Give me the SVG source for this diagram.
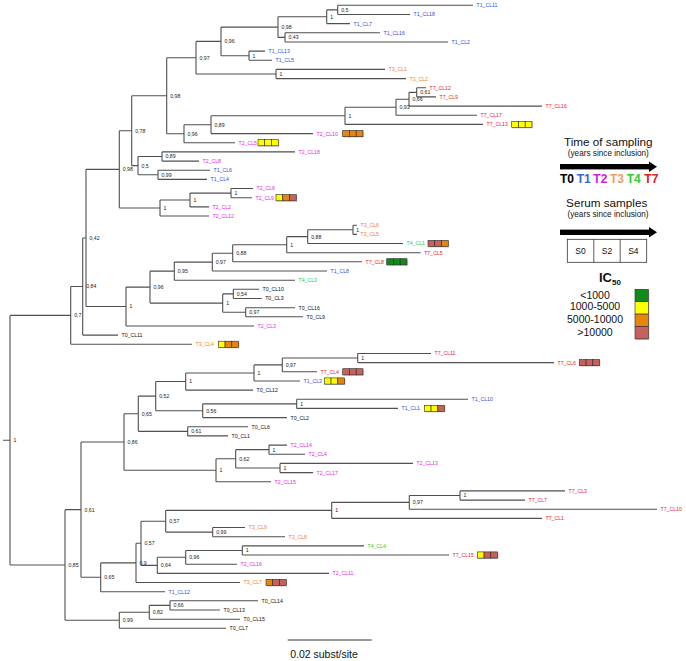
<svg xmlns="http://www.w3.org/2000/svg" width="686" height="661" viewBox="0 0 686 661">
<style>
.br{fill:none;stroke:#505050;stroke-width:1.1}
.lf{font-family:"Liberation Sans",Arial,sans-serif;font-size:5.2px}
.nl{font-family:"Liberation Sans",Arial,sans-serif;font-size:5.2px;fill:#1a1a1a}
.t0{fill:#111}.t1{fill:#2b50e0}.t2{fill:#e61ee0}.t3{fill:#f08030}.t4{fill:#2ecc2e}.t7{fill:#e8202c}
.bx{stroke:#2a2a2a;stroke-width:0.6}
.sh{fill:#000;opacity:0.25}
.Y{fill:#ffff00}.O{fill:#e8840a}.B{fill:#c8605c}.G{fill:#118a1a}
.lg{font-family:"Liberation Sans",Arial,sans-serif;fill:#111;text-anchor:middle}
</style>
<rect width="686" height="661" fill="#fff"/>
<g id="connectors">
<path class="br" d="M3 440.2H10M10 315.4V565M10 315.4H70.7M10 565H65
M70.7 286.5V344.3M70.7 286.5H82.7M70.7 344.3H192
M82.7 237.95V335.1M82.7 237.95H86M82.7 335.1H118
M86 169.35V306.55M86 169.35H119.3M86 306.55H126
M119.3 130.7V208M119.3 130.7H131.7M119.3 208H160
M131.7 95.7V165.65M131.7 95.7H166.7M131.7 165.65H138
M166.7 57.7V133.7M166.7 57.7H196M166.7 133.7H184
M196 41.4V74M196 41.4H221M196 74H276
M221 27.1V55.7M221 27.1H278M221 55.7H249
M278 16.8V37.4M278 16.8H326.7M278 37.4H285
M326.7 9.9V23.6M326.7 9.9H337.7M326.7 23.6H350
M337.7 5.3V14.5M337.7 5.3H473M337.7 14.5H410
M285 32.8V42M285 32.8H380M285 42H448
M249 51.1V60.3M249 51.1H265M249 60.3H272
M276 69.4V78.6M276 69.4H385M276 78.6H406
M184 124.7V142.7M184 124.7H211M184 142.7H235
M211 115.8V133.6M211 115.8H345M211 133.6H313
M345 107.2V124.4M345 107.2H396M345 124.4H483
M396 99.2V115.2M396 99.2H409M396 115.2H477
M409 92.35V106.1M409 92.35H416.7M409 106.1H542
M416.7 87.8V96.9M416.7 87.8H426M416.7 96.9H436
M138 156.5V174.8M138 156.5H162M138 174.8H158
M162 151.9V161.1M162 151.9H295M162 161.1H199
M158 170.2V179.4M158 170.2H210M158 179.4H207
M160 200V216M160 200H190M160 216H209
M190 193.1V206.9M190 193.1H231M190 206.9H209
M231 188.5V197.7M231 188.5H253M231 197.7H252
M126 287.1V326M126 287.1H150M126 326H254
M150 271.15V303.1M150 271.15H174.3M150 303.1H222.7
M174.3 262.1V280.2M174.3 262.1H212.3M174.3 280.2H295
M212.3 253.25V271M212.3 253.25H232.7M212.3 271H327
M232.7 244.7V261.8M232.7 244.7H286.7M232.7 261.8H362
M286.7 236.65V252.7M286.7 236.65H307.7M286.7 252.7H420.7
M307.7 229.8V243.5M307.7 229.8H353M307.7 243.5H403
M353 225.2V234.4M353 225.2H357M353 234.4H357
M222.7 293.9V312.25M222.7 293.9H233.3M222.7 312.25H245.7
M233.3 289.3V298.5M233.3 289.3H259M233.3 298.5H261.7
M245.7 307.7V316.8M245.7 307.7H295M245.7 316.8H303
M65 509.65V620.3M65 509.65H81M65 620.3H119.3
M81 442V577.3M81 442H124M81 577.3H100.7
M124 413.7V470.25M124 413.7H138.3M124 470.25H216
M138.3 396.1V431.35M138.3 396.1H155.7M138.3 431.35H187.7
M155.7 381.5V410.7M155.7 381.5H185.7M155.7 410.7H202.7
M185.7 372.95V390.1M185.7 372.95H254M185.7 390.1H253
M254 364.9V381M254 364.9H282.3M254 381H300
M282.3 358.05V371.8M282.3 358.05H357.7M282.3 371.8H317
M357.7 353.5V362.6M357.7 353.5H431M357.7 362.6H554
M202.7 403.85V417.6M202.7 403.85H296.7M202.7 417.6H287
M296.7 399.3V408.4M296.7 399.3H468M296.7 408.4H398
M187.7 426.8V435.9M187.7 426.8H248M187.7 435.9H228
M216 458.8V481.7M216 458.8H235.7M216 481.7H271
M235.7 449.65V468M235.7 449.65H269M235.7 468H280
M269 445.1V454.2M269 445.1H287M269 454.2H305
M280 463.4V472.6M280 463.4H413M280 472.6H313
M100.7 562.9V591.7M100.7 562.9H136M100.7 591.7H165
M136 543.3V582.5M136 543.3H141M136 582.5H240
M141 521.25V565.35M141 521.25H165.7M141 565.35H157.3
M165.7 510.4V532.1M165.7 510.4H331.7M165.7 532.1H212.7
M331.7 502.35V518.4M331.7 502.35H409.3M331.7 518.4H542
M409.3 495.5V509.2M409.3 495.5H460M409.3 509.2H657
M460 490.9V500.1M460 490.9H565M460 500.1H525
M212.7 527.5V536.7M212.7 527.5H245M212.7 536.7H285
M157.3 557.3V573.4M157.3 557.3H185.7M157.3 573.4H329
M185.7 550.45V564.2M185.7 550.45H242.3M185.7 564.2H237
M242.3 545.9V555M242.3 545.9H364M242.3 555H449
M119.3 612.3V628.3M119.3 612.3H149.3M119.3 628.3H226
M149.3 605.4V619.2M149.3 605.4H170M149.3 619.2H240
M170 600.8V610M170 600.8H258M170 610H220"/>
<path d="M287.7 640H371.7" stroke="#333" stroke-width="1" fill="none"/>
</g>
<g id="internal-nodes">
<g id="n-root"><text class="nl" x="13.5" y="442.1">1</text></g>
<g id="n-07"><text class="nl" x="74.2" y="317.3">0,7</text></g>
<g id="n-084"><text class="nl" x="86.2" y="288.4">0,84</text></g>
<g id="n-042"><text class="nl" x="89.5" y="239.9">0,42</text></g>
<g id="n-098b"><text class="nl" x="122.8" y="171.3">0,98</text></g>
<g id="n-078"><text class="nl" x="135.2" y="132.6">0,78</text></g>
<g id="n-098"><text class="nl" x="170.2" y="97.6">0,98</text></g>
<g id="n-097"><text class="nl" x="199.5" y="59.6">0,97</text></g>
<g id="n-096"><text class="nl" x="224.5" y="43.3">0,96</text></g>
<g id="n-098t"><text class="nl" x="281.5" y="29">0,98</text></g>
<g id="n-1a"><text class="nl" x="330.2" y="18.7">1</text></g>
<g id="n-05a"><text class="nl" x="341.2" y="11.8">0,5</text></g>
<g id="n-043"><text class="nl" x="288.5" y="39.3">0,43</text></g>
<g id="n-1b"><text class="nl" x="252.5" y="57.6">1</text></g>
<g id="n-1c"><text class="nl" x="279.5" y="75.9">1</text></g>
<g id="n-096b"><text class="nl" x="187.5" y="135.6">0,96</text></g>
<g id="n-089a"><text class="nl" x="214.5" y="126.6">0,89</text></g>
<g id="n-1t7"><text class="nl" x="348.5" y="117.7">1</text></g>
<g id="n-093"><text class="nl" x="399.5" y="109.1">0,93</text></g>
<g id="n-066"><text class="nl" x="412.5" y="101.1">0,66</text></g>
<g id="n-061t"><text class="nl" x="420.2" y="94.2">0,61</text></g>
<g id="n-05b"><text class="nl" x="141.5" y="167.5">0,5</text></g>
<g id="n-089b"><text class="nl" x="165.5" y="158.4">0,89</text></g>
<g id="n-099"><text class="nl" x="161.5" y="176.7">0,99</text></g>
<g id="n-1A"><text class="nl" x="163.5" y="209.9">1</text></g>
<g id="n-1B"><text class="nl" x="193.5" y="201.9">1</text></g>
<g id="n-1C"><text class="nl" x="234.5" y="195">1</text></g>
<g id="n-1g"><text class="nl" x="129.5" y="308.4">1</text></g>
<g id="n-096c"><text class="nl" x="153.5" y="289">0,96</text></g>
<g id="n-095"><text class="nl" x="177.8" y="273">0,95</text></g>
<g id="n-097d"><text class="nl" x="215.8" y="264">0,97</text></g>
<g id="n-088"><text class="nl" x="236.2" y="255.1">0,88</text></g>
<g id="n-1f"><text class="nl" x="290.2" y="246.6">1</text></g>
<g id="n-088b"><text class="nl" x="311.2" y="238.5">0,88</text></g>
<g id="n-1e"><text class="nl" x="356.2" y="231.7">1</text></g>
<g id="n-1d"><text class="nl" x="226.2" y="305">1</text></g>
<g id="n-054"><text class="nl" x="236.8" y="295.8">0,54</text></g>
<g id="n-097c"><text class="nl" x="249.2" y="314.1">0,97</text></g>
<g id="n-085"><text class="nl" x="68.5" y="566.9">0,85</text></g>
<g id="n-061"><text class="nl" x="84.5" y="511.5">0,61</text></g>
<g id="n-086"><text class="nl" x="127.5" y="443.9">0,86</text></g>
<g id="n-065"><text class="nl" x="141.8" y="415.6">0,65</text></g>
<g id="n-052"><text class="nl" x="159.2" y="398">0,52</text></g>
<g id="n-1k"><text class="nl" x="189.2" y="383.4">1</text></g>
<g id="n-1l"><text class="nl" x="257.5" y="374.8">1</text></g>
<g id="n-097e"><text class="nl" x="285.8" y="366.8">0,97</text></g>
<g id="n-1m"><text class="nl" x="361.2" y="359.9">1</text></g>
<g id="n-056"><text class="nl" x="206.2" y="412.6">0,56</text></g>
<g id="n-1n"><text class="nl" x="300.2" y="405.7">1</text></g>
<g id="n-061b"><text class="nl" x="191.2" y="433.2">0,61</text></g>
<g id="n-1h"><text class="nl" x="219.5" y="472.1">1</text></g>
<g id="n-062"><text class="nl" x="239.2" y="460.7">0,62</text></g>
<g id="n-1i"><text class="nl" x="272.5" y="451.5">1</text></g>
<g id="n-1j"><text class="nl" x="283.5" y="469.9">1</text></g>
<g id="n-065b"><text class="nl" x="104.2" y="579.2">0,65</text></g>
<g id="n-09"><text class="nl" x="139.5" y="564.8">0,9</text></g>
<g id="n-057b"><text class="nl" x="144.5" y="545.2">0,57</text></g>
<g id="n-057a"><text class="nl" x="169.2" y="523.1">0,57</text></g>
<g id="n-1o"><text class="nl" x="335.2" y="512.3">1</text></g>
<g id="n-097f"><text class="nl" x="412.8" y="504.2">0,97</text></g>
<g id="n-1q"><text class="nl" x="463.5" y="497.4">1</text></g>
<g id="n-099c"><text class="nl" x="216.2" y="534">0,99</text></g>
<g id="n-064"><text class="nl" x="160.8" y="567.2">0,64</text></g>
<g id="n-096d"><text class="nl" x="189.2" y="559.2">0,96</text></g>
<g id="n-1p"><text class="nl" x="245.8" y="552.3">1</text></g>
<g id="n-099b"><text class="nl" x="122.8" y="622.2">0,99</text></g>
<g id="n-082"><text class="nl" x="152.8" y="614.2">0,82</text></g>
<g id="n-066c"><text class="nl" x="173.5" y="607.3">0,66</text></g>
</g>
<g id="leaves">
<g id="T1_CL11"><text class="lf t1" x="476.5" y="7.2">T1_CL11</text></g>
<g id="T1_CL18"><text class="lf t1" x="413.5" y="16.4">T1_CL18</text></g>
<g id="T1_CL7"><text class="lf t1" x="353.5" y="25.5">T1_CL7</text></g>
<g id="T1_CL16"><text class="lf t1" x="383.5" y="34.7">T1_CL16</text></g>
<g id="T1_CL2"><text class="lf t1" x="451.5" y="43.9">T1_CL2</text></g>
<g id="T1_CL13"><text class="lf t1" x="268.5" y="53">T1_CL13</text></g>
<g id="T1_CL5"><text class="lf t1" x="275.5" y="62.2">T1_CL5</text></g>
<g id="T3_CL1"><text class="lf t3" x="388.5" y="71.3">T3_CL1</text></g>
<g id="T3_CL2"><text class="lf t3" x="409.5" y="80.5">T3_CL2</text></g>
<g id="T7_CL12"><text class="lf t7" x="429.5" y="89.7">T7_CL12</text></g>
<g id="T7_CL9"><text class="lf t7" x="439.5" y="98.8">T7_CL9</text></g>
<g id="T7_CL16"><text class="lf t7" x="545.5" y="108">T7_CL16</text></g>
<g id="T7_CL17"><text class="lf t7" x="480.5" y="117.1">T7_CL17</text></g>
<g id="T7_CL13"><text class="lf t7" x="486.5" y="126.3">T7_CL13</text>
<rect class="sh" x="512.5" y="122.1" width="20.25" height="6.2"/><rect class="bx Y" x="511.7" y="121.3" width="6.75" height="6.2"/><rect class="bx Y" x="518.45" y="121.3" width="6.75" height="6.2"/><rect class="bx Y" x="525.2" y="121.3" width="6.75" height="6.2"/></g>
<g id="T2_CL10"><text class="lf t2" x="316.5" y="135.5">T2_CL10</text>
<rect class="sh" x="343.5" y="131.3" width="20.25" height="6.2"/><rect class="bx O" x="342.7" y="130.5" width="6.75" height="6.2"/><rect class="bx O" x="349.45" y="130.5" width="6.75" height="6.2"/><rect class="bx O" x="356.2" y="130.5" width="6.75" height="6.2"/></g>
<g id="T2_CL5"><text class="lf t2" x="238.5" y="144.6">T2_CL5</text>
<rect class="sh" x="258.8" y="140.4" width="20.25" height="6.2"/><rect class="bx Y" x="258" y="139.6" width="6.75" height="6.2"/><rect class="bx Y" x="264.75" y="139.6" width="6.75" height="6.2"/><rect class="bx Y" x="271.5" y="139.6" width="6.75" height="6.2"/></g>
<g id="T2_CL18"><text class="lf t2" x="298.5" y="153.8">T2_CL18</text></g>
<g id="T2_CL8"><text class="lf t2" x="202.5" y="163">T2_CL8</text></g>
<g id="T1_CL6"><text class="lf t1" x="213.5" y="172.1">T1_CL6</text></g>
<g id="T1_CL4"><text class="lf t1" x="210.5" y="181.3">T1_CL4</text></g>
<g id="T2_CL6"><text class="lf t2" x="256.5" y="190.4">T2_CL6</text></g>
<g id="T2_CL9"><text class="lf t2" x="255.5" y="199.6">T2_CL9</text>
<rect class="sh" x="276.8" y="195.4" width="20.25" height="6.2"/><rect class="bx Y" x="276" y="194.6" width="6.75" height="6.2"/><rect class="bx O" x="282.75" y="194.6" width="6.75" height="6.2"/><rect class="bx B" x="289.5" y="194.6" width="6.75" height="6.2"/></g>
<g id="T2_CL2"><text class="lf t2" x="212.5" y="208.8">T2_CL2</text></g>
<g id="T2_CL12"><text class="lf t2" x="212.5" y="217.9">T2_CL12</text></g>
<g id="T3_CL6"><text class="lf t3" x="360.5" y="227.1">T3_CL6</text></g>
<g id="T3_CL5"><text class="lf t3" x="360.5" y="236.3">T3_CL5</text></g>
<g id="T4_CL1"><text class="lf t4" x="406.5" y="245.4">T4_CL1</text>
<rect class="sh" x="428.8" y="241.2" width="20.25" height="6.2"/><rect class="bx B" x="428" y="240.4" width="6.75" height="6.2"/><rect class="bx B" x="434.75" y="240.4" width="6.75" height="6.2"/><rect class="bx O" x="441.5" y="240.4" width="6.75" height="6.2"/></g>
<g id="T7_CL5"><text class="lf t7" x="424.2" y="254.6">T7_CL5</text></g>
<g id="T7_CL8"><text class="lf t7" x="365.5" y="263.7">T7_CL8</text>
<rect class="sh" x="387.5" y="259.5" width="20.25" height="6.2"/><rect class="bx G" x="386.7" y="258.7" width="6.75" height="6.2"/><rect class="bx G" x="393.45" y="258.7" width="6.75" height="6.2"/><rect class="bx G" x="400.2" y="258.7" width="6.75" height="6.2"/></g>
<g id="T1_CL8"><text class="lf t1" x="330.5" y="272.9">T1_CL8</text></g>
<g id="T4_CL3"><text class="lf t4" x="298.5" y="282.1">T4_CL3</text></g>
<g id="T0_CL10"><text class="lf t0" x="262.5" y="291.2">T0_CL10</text></g>
<g id="T0_CL3"><text class="lf t0" x="265.2" y="300.4">T0_CL3</text></g>
<g id="T0_CL16"><text class="lf t0" x="298.5" y="309.6">T0_CL16</text></g>
<g id="T0_CL9"><text class="lf t0" x="306.5" y="318.7">T0_CL9</text></g>
<g id="T2_CL3"><text class="lf t2" x="257.5" y="327.9">T2_CL3</text></g>
<g id="T0_CL11"><text class="lf t0" x="121.5" y="337">T0_CL11</text></g>
<g id="T3_CL4"><text class="lf t3" x="195.5" y="346.2">T3_CL4</text>
<rect class="sh" x="219.1" y="342" width="20.25" height="6.2"/><rect class="bx Y" x="218.3" y="341.2" width="6.75" height="6.2"/><rect class="bx O" x="225.05" y="341.2" width="6.75" height="6.2"/><rect class="bx O" x="231.8" y="341.2" width="6.75" height="6.2"/></g>
<g id="T7_CL11"><text class="lf t7" x="434.5" y="355.4">T7_CL11</text></g>
<g id="T7_CL6"><text class="lf t7" x="557.5" y="364.5">T7_CL6</text>
<rect class="sh" x="580.1" y="360.3" width="20.25" height="6.2"/><rect class="bx B" x="579.3" y="359.5" width="6.75" height="6.2"/><rect class="bx B" x="586.05" y="359.5" width="6.75" height="6.2"/><rect class="bx B" x="592.8" y="359.5" width="6.75" height="6.2"/></g>
<g id="T7_CL4"><text class="lf t7" x="320.5" y="373.7">T7_CL4</text>
<rect class="sh" x="343.5" y="369.5" width="20.25" height="6.2"/><rect class="bx B" x="342.7" y="368.7" width="6.75" height="6.2"/><rect class="bx B" x="349.45" y="368.7" width="6.75" height="6.2"/><rect class="bx B" x="356.2" y="368.7" width="6.75" height="6.2"/></g>
<g id="T1_CL3"><text class="lf t1" x="303.5" y="382.9">T1_CL3</text>
<rect class="sh" x="325.1" y="378.7" width="20.25" height="6.2"/><rect class="bx Y" x="324.3" y="377.9" width="6.75" height="6.2"/><rect class="bx Y" x="331.05" y="377.9" width="6.75" height="6.2"/><rect class="bx O" x="337.8" y="377.9" width="6.75" height="6.2"/></g>
<g id="T0_CL12"><text class="lf t0" x="256.5" y="392">T0_CL12</text></g>
<g id="T1_CL10"><text class="lf t1" x="471.5" y="401.2">T1_CL10</text></g>
<g id="T1_CL1"><text class="lf t1" x="401.5" y="410.3">T1_CL1</text>
<rect class="sh" x="425.1" y="406.1" width="20.25" height="6.2"/><rect class="bx Y" x="424.3" y="405.3" width="6.75" height="6.2"/><rect class="bx Y" x="431.05" y="405.3" width="6.75" height="6.2"/><rect class="bx B" x="437.8" y="405.3" width="6.75" height="6.2"/></g>
<g id="T0_CL2"><text class="lf t0" x="290.5" y="419.5">T0_CL2</text></g>
<g id="T0_CL6"><text class="lf t0" x="251.5" y="428.7">T0_CL6</text></g>
<g id="T0_CL1"><text class="lf t0" x="231.5" y="437.8">T0_CL1</text></g>
<g id="T2_CL14"><text class="lf t2" x="290.5" y="447">T2_CL14</text></g>
<g id="T2_CL4"><text class="lf t2" x="308.5" y="456.1">T2_CL4</text></g>
<g id="T2_CL13"><text class="lf t2" x="416.5" y="465.3">T2_CL13</text></g>
<g id="T2_CL17"><text class="lf t2" x="316.5" y="474.5">T2_CL17</text></g>
<g id="T2_CL15"><text class="lf t2" x="274.5" y="483.6">T2_CL15</text></g>
<g id="T7_CL3"><text class="lf t7" x="568.5" y="492.8">T7_CL3</text></g>
<g id="T7_CL7"><text class="lf t7" x="528.5" y="502">T7_CL7</text></g>
<g id="T7_CL10"><text class="lf t7" x="660.5" y="511.1">T7_CL10</text></g>
<g id="T7_CL1"><text class="lf t7" x="545.5" y="520.3">T7_CL1</text></g>
<g id="T3_CL9"><text class="lf t3" x="248.5" y="529.4">T3_CL9</text></g>
<g id="T3_CL8"><text class="lf t3" x="288.5" y="538.6">T3_CL8</text></g>
<g id="T4_CL4"><text class="lf t4" x="367.5" y="547.8">T4_CL4</text></g>
<g id="T7_CL15"><text class="lf t7" x="452.5" y="556.9">T7_CL15</text>
<rect class="sh" x="478.1" y="552.7" width="20.25" height="6.2"/><rect class="bx Y" x="477.3" y="551.9" width="6.75" height="6.2"/><rect class="bx B" x="484.05" y="551.9" width="6.75" height="6.2"/><rect class="bx B" x="490.8" y="551.9" width="6.75" height="6.2"/></g>
<g id="T2_CL16"><text class="lf t2" x="240.5" y="566.1">T2_CL16</text></g>
<g id="T2_CL11"><text class="lf t2" x="332.5" y="575.3">T2_CL11</text></g>
<g id="T3_CL7"><text class="lf t3" x="243.5" y="584.4">T3_CL7</text>
<rect class="sh" x="266.8" y="580.2" width="20.25" height="6.2"/><rect class="bx O" x="266" y="579.4" width="6.75" height="6.2"/><rect class="bx B" x="272.75" y="579.4" width="6.75" height="6.2"/><rect class="bx B" x="279.5" y="579.4" width="6.75" height="6.2"/></g>
<g id="T1_CL12"><text class="lf t1" x="168.5" y="593.6">T1_CL12</text></g>
<g id="T0_CL14"><text class="lf t0" x="261.5" y="602.7">T0_CL14</text></g>
<g id="T0_CL13"><text class="lf t0" x="223.5" y="611.9">T0_CL13</text></g>
<g id="T0_CL15"><text class="lf t0" x="243.5" y="621.1">T0_CL15</text></g>
<g id="T0_CL7"><text class="lf t0" x="229.5" y="630.2">T0_CL7</text></g>
</g>
<g id="legend-time">
<text class="lg" x="608.3" y="145.8" font-size="11.7">Time of sampling</text>
<text class="lg" x="608.3" y="156.2" font-size="8.2">(years since inclusion)</text>
<rect x="560" y="164" width="91" height="5.4" fill="#000"/>
<polygon points="649,161.5 657,166.7 649,171.9" fill="#000"/>
<text x="560" y="182.8" font-family="Liberation Sans,Arial,sans-serif" font-size="12" font-weight="bold"><tspan fill="#000">T0</tspan><tspan x="576.7" fill="#3a64d8">T1</tspan><tspan x="593.3" fill="#d61ad6">T2</tspan><tspan x="610" fill="#f0a060">T3</tspan><tspan x="626.7" fill="#33cc33">T4</tspan><tspan x="644.3" fill="#d82020">T7</tspan></text>
</g>
<g id="legend-serum">
<text class="lg" x="606.7" y="206.8" font-size="11.7">Serum samples</text>
<text class="lg" x="608" y="216.9" font-size="8.2">(years since inclusion)</text>
<rect x="560" y="229.6" width="91" height="5.4" fill="#000"/>
<polygon points="649,227 657,232.3 649,237.6" fill="#000"/>
<rect x="567.3" y="239.3" width="79.4" height="23" fill="#fff" stroke="#333" stroke-width="0.8"/>
<path d="M593.8 239.3V262.3M620.2 239.3V262.3" stroke="#333" stroke-width="0.8"/>
<text class="lg" x="580.5" y="254.2" font-size="8.5" fill="#333">S0</text>
<text class="lg" x="607" y="254.2" font-size="8.5" fill="#333">S2</text>
<text class="lg" x="633.4" y="254.2" font-size="8.5" fill="#333">S4</text>
</g>
<g id="legend-ic50">
<text x="599" y="282.3" font-family="Liberation Sans,Arial,sans-serif" font-size="13" font-weight="bold" fill="#111">IC<tspan font-size="8" dy="2.6">50</tspan></text>
<text class="lg" x="595" y="298.7" font-size="10.5">&lt;1000</text>
<text class="lg" x="595" y="310.4" font-size="10.5">1000-5000</text>
<text class="lg" x="595" y="323" font-size="10.5">5000-10000</text>
<text class="lg" x="595" y="336.4" font-size="10.5">&gt;10000</text>
<rect class="sh" x="636" y="290.3" width="13.3" height="49.6"/>
<rect class="bx G" x="635" y="289.3" width="13.3" height="12.4" stroke-width="0.9"/>
<rect class="bx Y" x="635" y="301.7" width="13.3" height="12.4" stroke-width="0.9"/>
<rect class="bx O" x="635" y="314.1" width="13.3" height="12.4" stroke-width="0.9"/>
<rect class="bx B" x="635" y="326.5" width="13.3" height="12.4" stroke-width="0.9"/>
</g>
<g id="scale">
<text class="lg" x="324" y="658" font-size="10.5">0.02 subst/site</text>
</g>
</svg>
